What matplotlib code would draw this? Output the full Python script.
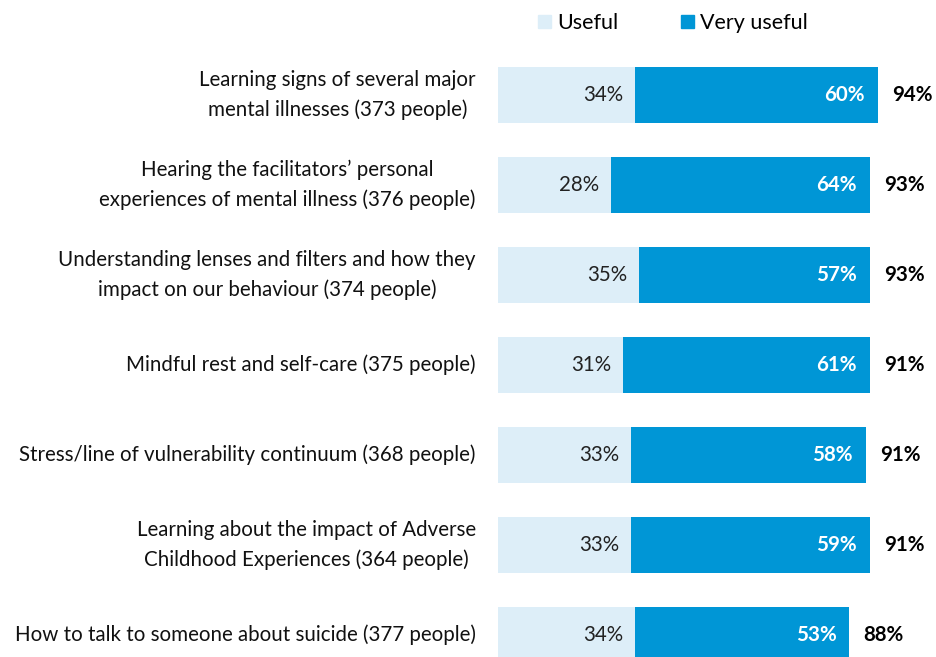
import matplotlib
matplotlib.use("Agg")
import matplotlib.pyplot as plt
from matplotlib.patches import Patch

categories = [
    "Learning signs of several major\nmental illnesses (373 people)",
    "Hearing the facilitators\u2019 personal\nexperiences of mental illness (376 people)",
    "Understanding lenses and filters and how they\nimpact on our behaviour (374 people)",
    "Mindful rest and self-care (375 people)",
    "Stress/line of vulnerability continuum (368 people)",
    "Learning about the impact of Adverse\nChildhood Experiences (364 people)",
    "How to talk to someone about suicide (377 people)",
]
useful = [34, 28, 35, 31, 33, 33, 34]
very_useful = [60, 64, 57, 61, 58, 59, 53]
totals = [94, 93, 93, 91, 91, 91, 88]

light = "#DDEEF8"
dark = "#0096D6"
plt.rcParams['font.family'] = ['Lato', 'DejaVu Sans']

W, H = 936, 657
fig = plt.figure(figsize=(W/100, H/100), dpi=100)
ax_left = 498 / W
px_per_pct = 4.04
ax_width = 100 * px_per_pct / W
ax_top = 50
ax_bottom = 680
ax = fig.add_axes([ax_left, 1 - ax_bottom / H, ax_width, (ax_bottom - ax_top) / H])

n = len(categories)
y = list(range(n))
ax.barh(y, useful, height=0.62, color=light)
ax.barh(y, very_useful, left=useful, height=0.62, color=dark)
ax.set_xlim(0, 100)
ax.set_ylim(n - 0.5, -0.5)
ax.axis('off')

fs = 14.8
for i in range(n):
    ax.text(useful[i] - 3, i, f"{useful[i]}%", ha='right', va='center', fontsize=fs, color='#222222')
    end = useful[i] + very_useful[i]
    ax.text(end - 3.2, i, f"{very_useful[i]}%", ha='right', va='center', fontsize=fs, color='white', fontweight='bold')
    ax.text(end + 3.5, i, f"{totals[i]}%", ha='left', va='center', fontsize=fs, color='black', fontweight='bold', clip_on=False)
    ax.text(-5.5, i, categories[i], ha='right', va='center', fontsize=fs, color='#111111', linespacing=1.6, multialignment='center')

handles = [Patch(color=light, label='Useful'), Patch(color=dark, label='Very useful')]
fig.legend(handles=handles, loc='center', bbox_to_anchor=(673 / W, 1 - 23 / H), ncol=2, frameon=False,
           fontsize=15.5, handlelength=0.6, handleheight=0.6, handletextpad=0.3, columnspacing=2.9)

fig.savefig("out.png", dpi=100)
